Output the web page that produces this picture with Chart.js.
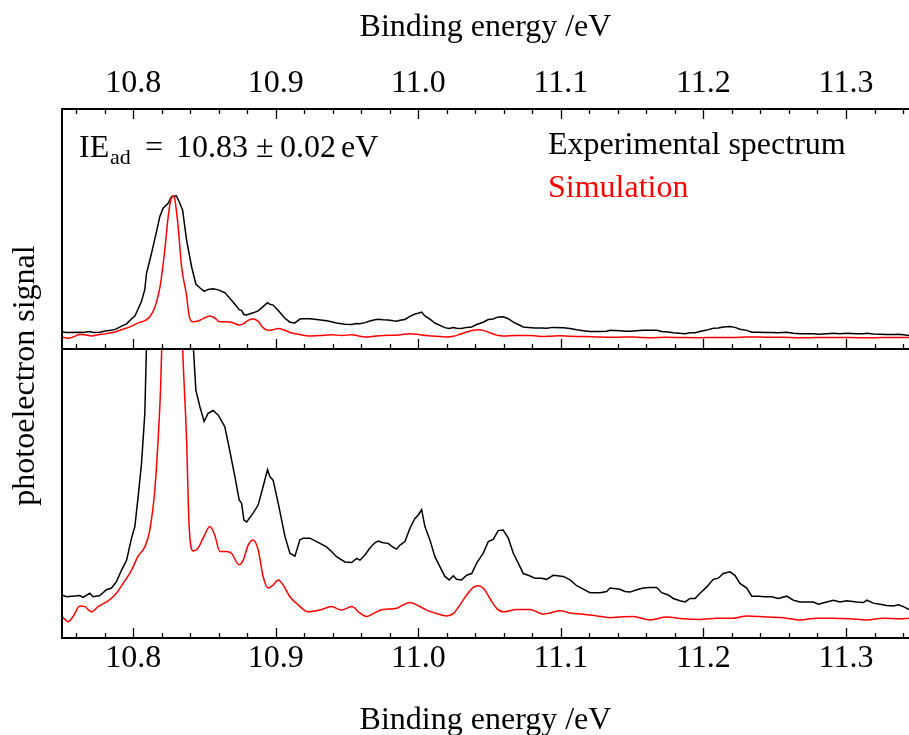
<!DOCTYPE html>
<html>
<head>
<meta charset="utf-8">
<title>Photoelectron spectrum</title>
<style>
  html, body { margin: 0; padding: 0; background: #ffffff; }
  canvas { display: block; }
</style>
<script src="https://cdn.jsdelivr.net/npm/chart.js@4/dist/chart.umd.min.js"></script>
</head>
<body>
<canvas id="spectrum" width="909" height="735"></canvas>
<script>
// Binding-energy axis labels (eV)
const energyTicks = [10.8, 10.9, 11.0, 11.1, 11.2, 11.3];
const energyMin = 10.75;
const energyMax = 11.3442;
const minorStep = 0.02;

// Experimental photoelectron spectrum (binding energy / eV, normalised signal)
const expEnergy = [
  10.750,10.7532,10.7625,10.7648,10.7695,10.7718,10.7765,10.7812,10.7847,10.7882,
  10.7918,10.7953,10.7988,10.8011,10.8034,10.8058,10.8081,10.8093,10.8128,10.8163,
  10.8186,10.8209,10.8245,10.8268,10.8292,10.8303,10.8322,10.8346,10.8374,10.8409,
  10.8439,10.8467,10.8497,10.8525,10.8560,10.8596,10.8642,10.8666,10.8713,10.8743,
  10.8760,10.8776,10.8795,10.8841,10.8876,10.8911,10.8942,10.8958,10.8981,10.9017,
  10.9064,10.9099,10.9134,10.9169,10.9192,10.9239,10.9286,10.9356,10.9391,10.9426,
  10.9485,10.9532,10.9567,10.9590,10.9625,10.9660,10.9695,10.9718,10.9753,10.9788,
  10.9824,10.9847,10.9871,10.9906,10.9941,10.9976,10.9999,11.0023,11.0046,11.0081,
  11.0116,11.0151,11.0186,11.0216,11.0245,11.0268,11.0303,11.0339,11.0374,11.0409,
  11.0455,11.0490,11.0525,11.0560,11.0595,11.0631,11.0666,11.0701,11.0736,11.0771,
  11.0818,11.0865,11.0900,11.0946,11.1017,11.1064,11.1111,11.1157,11.1204,11.1274,
  11.1321,11.1344,11.1414,11.1449,11.1485,11.1532,11.1578,11.1625,11.1672,11.1707,
  11.1753,11.1788,11.1835,11.1871,11.1906,11.1941,11.1976,11.2023,11.2069,11.2104,
  11.2139,11.2186,11.2221,11.2256,11.2304,11.2339,11.2385,11.2432,11.2479,11.2525,
  11.2584,11.2631,11.2678,11.2725,11.2771,11.2806,11.2865,11.2911,11.2958,11.3005,
  11.3075,11.3122,11.3146,11.3192,11.3239,11.3286,11.3332,11.3367,11.3403,11.3442
];
const expSignal = [
  0.000,-0.003,-0.001,-0.004,0.003,-0.003,-0.001,0.009,0.012,0.023,
  0.043,0.060,0.098,0.118,0.169,0.227,0.313,0.432,0.579,0.738,
  0.848,0.910,0.946,0.995,1.000,1.000,0.958,0.897,0.676,0.480,
  0.353,0.325,0.299,0.313,0.318,0.310,0.290,0.262,0.204,0.164,
  0.158,0.129,0.126,0.141,0.155,0.187,0.216,0.204,0.198,0.158,
  0.101,0.072,0.067,0.095,0.098,0.098,0.092,0.083,0.075,0.066,
  0.057,0.056,0.063,0.060,0.069,0.081,0.090,0.093,0.090,0.089,
  0.082,0.079,0.086,0.092,0.115,0.132,0.138,0.147,0.118,0.095,
  0.066,0.049,0.032,0.026,0.033,0.027,0.026,0.034,0.037,0.055,
  0.072,0.092,0.096,0.111,0.112,0.098,0.072,0.055,0.037,0.034,
  0.029,0.029,0.027,0.034,0.032,0.026,0.016,0.010,0.004,0.004,
  0.006,0.012,0.010,0.006,0.005,0.009,0.012,0.013,0.013,0.004,
  0.000,-0.006,-0.010,-0.012,-0.006,-0.006,0.003,0.014,0.027,0.029,
  0.037,0.040,0.034,0.020,0.012,-0.002,-0.002,-0.003,-0.003,-0.006,
  -0.002,-0.009,-0.012,-0.012,-0.012,-0.016,-0.012,-0.009,-0.012,-0.010,
  -0.012,-0.013,-0.009,-0.014,-0.016,-0.018,-0.019,-0.017,-0.020,-0.025
];

// Simulated spectrum on the same energy axis
const simEnergy = [
  10.750,10.7543,10.7578,10.7625,10.7660,10.7707,10.7753,10.7812,10.7871,10.7929,
  10.7988,10.8034,10.8081,10.8116,10.8151,10.8174,10.8191,10.8221,10.8245,10.8263,
  10.8280,10.8292,10.8315,10.8339,10.8374,10.8392,10.8420,10.8455,10.8490,10.8537,
  10.8572,10.8607,10.8654,10.8689,10.8743,10.8771,10.8806,10.8841,10.8876,10.8911,
  10.8946,10.8981,10.9017,10.9052,10.9099,10.9157,10.9227,10.9309,10.9391,10.9461,
  10.9532,10.9590,10.9637,10.9683,10.9753,10.9847,10.9894,10.9941,10.9988,11.0058,
  11.0128,11.0198,11.0245,11.0292,11.0339,11.0385,11.0420,11.0455,11.0502,11.0549,
  11.0595,11.0689,11.0783,11.0830,11.0876,11.0923,11.0993,11.1064,11.1157,11.1251,
  11.1344,11.1414,11.1508,11.1625,11.1742,11.1859,11.1976,11.2093,11.2209,11.2304,
  11.2444,11.2560,11.2678,11.2795,11.2911,11.3028,11.3146,11.3262,11.3379,11.3442
];
const simSignal = [
  -0.037,-0.046,-0.037,-0.019,-0.020,-0.029,-0.020,-0.012,0.000,0.020,
  0.043,0.067,0.083,0.112,0.181,0.267,0.353,0.603,0.848,0.971,
  1.000,0.971,0.774,0.480,0.267,0.118,0.076,0.081,0.098,0.118,
  0.103,0.075,0.075,0.072,0.052,0.060,0.086,0.095,0.078,0.032,
  0.012,0.017,0.026,0.017,-0.003,-0.017,-0.029,-0.026,-0.020,-0.026,
  -0.020,-0.031,-0.037,-0.032,-0.025,-0.023,-0.017,-0.013,-0.017,-0.026,
  -0.032,-0.036,-0.032,-0.017,0.000,0.013,0.016,0.012,-0.006,-0.023,
  -0.029,-0.025,-0.025,-0.029,-0.033,-0.031,-0.027,-0.031,-0.033,-0.036,
  -0.039,-0.038,-0.037,-0.043,-0.038,-0.041,-0.042,-0.040,-0.040,-0.036,
  -0.038,-0.039,-0.043,-0.040,-0.040,-0.041,-0.043,-0.040,-0.041,-0.040
];

// Signal ranges of the two panels: full view on top, magnified view below
const fullRange = { min: -0.125, max: 1.64 };
const zoomRange = { min: -0.0741, max: 0.424 };

const FONT = "'Liberation Serif', 'Times New Roman', serif";
const toPoints = (xs, ys) => xs.map((x, i) => ({ x: x, y: ys[i] }));

// Clip each line to its own panel, then draw frame, inward ticks and texts
const panelDecor = {
  id: 'panelDecor',
  beforeDatasetDraw(chart, args) {
    const a = chart.chartArea;
    const ys = args.meta.yScale;
    const ctx = chart.ctx;
    ctx.save();
    ctx.beginPath();
    ctx.rect(a.left, ys.top, a.right - a.left, ys.bottom - ys.top);
    ctx.clip();
  },
  afterDatasetDraw(chart) {
    chart.ctx.restore();
  },
  afterDraw(chart) {
    const ctx = chart.ctx;
    const a = chart.chartArea;
    const xs = chart.scales.x;
    const divider = chart.scales.yTop.bottom;

    ctx.save();
    // frame
    ctx.strokeStyle = '#000';
    ctx.lineWidth = 2;
    ctx.beginPath();
    ctx.moveTo(a.left, a.top); ctx.lineTo(a.right, a.top);
    ctx.moveTo(a.left, divider); ctx.lineTo(a.right, divider);
    ctx.moveTo(a.left, a.bottom); ctx.lineTo(a.right, a.bottom);
    ctx.moveTo(a.left, a.top - 1); ctx.lineTo(a.left, a.bottom + 1);
    ctx.stroke();

    // inward tick marks (major every 0.1 eV, minor every 0.02 eV)
    const rows = [{ y: a.top, dir: 1 }, { y: divider, dir: -1 }, { y: a.bottom, dir: -1 }];
    ctx.lineWidth = 1.3;
    ctx.beginPath();
    for (let k = Math.ceil(xs.min / minorStep - 1e-9); k * minorStep <= xs.max + 1e-9; k++) {
      const v = k * minorStep;
      const major = Math.abs(v * 10 - Math.round(v * 10)) < 1e-6;
      const px = Math.round(xs.getPixelForValue(v)) + 0.5;
      const len = major ? 10 : 5;
      rows.forEach(r => { ctx.moveTo(px, r.y); ctx.lineTo(px, r.y + r.dir * len); });
    }
    ctx.stroke();

    // vertical axis title spanning both panels
    ctx.fillStyle = '#000';
    ctx.font = '32px ' + FONT;
    ctx.textBaseline = 'alphabetic';
    ctx.save();
    ctx.translate(34, (a.top + a.bottom) / 2 + 2);
    ctx.rotate(-Math.PI / 2);
    ctx.textAlign = 'center';
    ctx.fillText('photoelectron signal', 0, 0);
    ctx.restore();

    // adiabatic ionisation energy
    ctx.textAlign = 'left';
    ctx.fillText('IE', 79, 157);
    ctx.font = '22px ' + FONT;
    ctx.fillText('ad', 110, 164);
    ctx.font = '32px ' + FONT;
    ctx.fillText('=', 145, 157);
    ctx.fillText('10.83', 176, 157);
    ctx.fillText('\u00B1', 256, 157);
    ctx.fillText('0.02', 280, 157);
    ctx.fillText('eV', 341, 157);

    // legend
    ctx.fillText('Experimental spectrum', 548, 153.5);
    ctx.fillStyle = '#ff0000';
    ctx.fillText('Simulation', 548, 196.5);
    ctx.restore();
  }
};

const xAxisCommon = {
  type: 'linear',
  min: energyMin,
  max: energyMax,
  grid: { display: false, drawTicks: false },
  border: { display: false },
  afterBuildTicks: (scale) => { scale.ticks = energyTicks.map(v => ({ value: v })); },
};

const hiddenY = {
  type: 'linear',
  position: 'left',
  stack: 'panels',
  ticks: { display: false },
  grid: { display: false, drawTicks: false },
  border: { display: false },
  afterFit: (scale) => { scale.width = 62; }
};

new Chart(document.getElementById('spectrum'), {
  type: 'line',
  data: {
    datasets: [
      { label: 'Simulation', data: toPoints(simEnergy, simSignal), xAxisID: 'x', yAxisID: 'yTop',
        borderColor: '#ff0000', borderWidth: 1.5, pointRadius: 0, cubicInterpolationMode: 'monotone', fill: false },
      { label: 'Experimental spectrum', data: toPoints(expEnergy, expSignal), xAxisID: 'x', yAxisID: 'yTop',
        borderColor: '#000000', borderWidth: 1.5, pointRadius: 0, tension: 0, fill: false },
      { label: 'Simulation', data: toPoints(simEnergy, simSignal), xAxisID: 'x', yAxisID: 'yBot',
        borderColor: '#ff0000', borderWidth: 1.5, pointRadius: 0, cubicInterpolationMode: 'monotone', fill: false },
      { label: 'Experimental spectrum', data: toPoints(expEnergy, expSignal), xAxisID: 'x', yAxisID: 'yBot',
        borderColor: '#000000', borderWidth: 1.5, pointRadius: 0, tension: 0, fill: false }
    ]
  },
  options: {
    responsive: false,
    animation: false,
    devicePixelRatio: 1,
    layout: { padding: 0 },
    plugins: { legend: { display: false }, tooltip: { enabled: false } },
    scales: {
      x: Object.assign({}, xAxisCommon, {
        position: 'bottom',
        ticks: { color: '#000', font: { family: FONT, size: 32 }, padding: 1, maxRotation: 0,
                 callback: (v) => Number(v).toFixed(1) },
        title: { display: true, text: 'Binding energy /eV', color: '#000',
                 font: { family: FONT, size: 32 }, padding: { top: 0, bottom: -5 } },
        afterFit: (scale) => { scale.height = 97; }
      }),
      xTop: Object.assign({}, xAxisCommon, {
        position: 'top',
        ticks: { color: '#000', font: { family: FONT, size: 32 }, padding: 6, maxRotation: 0,
                 callback: (v) => Number(v).toFixed(1) },
        title: { display: true, text: 'Binding energy /eV', color: '#000',
                 font: { family: FONT, size: 32 }, padding: { top: 8, bottom: 0 } },
        afterFit: (scale) => { scale.height = 109; }
      }),
      // magnified panel listed first so that the full view is stacked above it
      yBot: Object.assign({}, hiddenY, { min: zoomRange.min, max: zoomRange.max, stackWeight: 289 }),
      yTop: Object.assign({}, hiddenY, { min: fullRange.min, max: fullRange.max, stackWeight: 240 })
    }
  },
  plugins: [panelDecor]
});
</script>
</body>
</html>
